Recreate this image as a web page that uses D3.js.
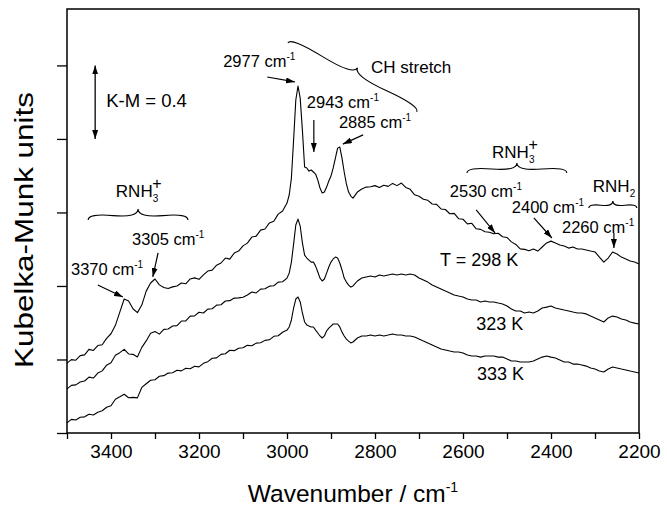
<!DOCTYPE html>
<html>
<head>
<meta charset="utf-8">
<script src="https://cdn.jsdelivr.net/npm/d3@7"></script>
<style>
  body { margin: 0; background: #fff; }
  text { font-family: "Liberation Sans", Arial, Helvetica, sans-serif; fill: #000; }
</style>
</head>
<body>
<div id="chart"></div>
<script>
// Wavenumber grid (cm-1) shared by the three spectra
const wavenumbers = [
  3500,3490,3480,3470,3460,3450,3440,3430,3420,3410,3400,3390,3380,3370,3360,3350,3340,3330,3320,3310,
  3300,3290,3280,3270,3260,3250,3240,3230,3220,3210,3200,3190,3180,3170,3160,3150,3140,3130,3120,3110,
  3100,3090,3080,3070,3060,3050,3040,3030,3020,3010,
  3000,2995,2990,2985,2980,2975,2970,2965,2960,2955,2950,2945,2940,2935,2930,2925,2920,2915,2910,2905,
  2900,2895,2890,2885,2880,2875,2870,2865,2860,2855,2850,
  2840,2830,2820,2810,2800,2790,2780,2770,2760,2750,2740,2730,2720,2710,2700,2690,2680,2670,2660,2650,
  2640,2630,2620,2610,2600,2590,2580,2570,2560,2550,2540,2530,2520,2510,2500,2490,2480,2470,2460,2450,
  2440,2430,2420,2410,2400,2390,2380,2370,2360,2350,2340,2330,2320,2310,2300,2290,2280,2270,2260,2250,
  2240,2230,2220,2210,2200
];

// Kubelka-Munk values (offset spectra)
const km298 = [
  0.380,0.399,0.396,0.421,0.425,0.455,0.449,0.476,0.480,0.515,0.540,0.586,0.658,0.729,0.718,0.676,0.655,0.696,0.772,0.816,
  0.838,0.806,0.792,0.786,0.795,0.800,0.816,0.812,0.838,0.844,0.836,0.860,0.881,0.886,0.913,0.925,0.952,0.946,0.979,0.990,
  1.018,1.033,1.066,1.071,1.104,1.110,1.143,1.152,1.191,1.208,
  1.251,1.295,1.387,1.594,1.812,1.888,1.822,1.648,1.447,1.442,1.425,1.431,1.420,1.409,1.376,1.333,1.306,1.311,1.338,1.371,
  1.398,1.442,1.496,1.550,1.556,1.496,1.420,1.355,1.311,1.289,1.278,
  1.311,1.328,1.338,1.340,1.346,1.336,1.348,1.342,1.358,1.346,1.360,1.336,1.326,1.296,1.288,1.272,1.266,1.246,1.244,1.219,
  1.216,1.193,1.195,1.166,1.163,1.138,1.141,1.111,1.108,1.095,1.092,1.084,1.087,1.068,1.064,1.040,1.026,1.002,0.999,0.992,
  1.001,0.990,1.012,1.034,1.044,1.034,1.023,1.017,1.006,1.012,1.001,1.001,0.996,0.990,0.985,0.957,0.930,0.952,0.985,0.974,
  0.957,0.947,0.936,0.930,0.919
];
const km323 = [
  0.240,0.259,0.262,0.277,0.283,0.304,0.299,0.326,0.338,0.369,0.382,0.423,0.437,0.455,0.430,0.428,0.414,0.466,0.501,0.543,
  0.552,0.538,0.564,0.566,0.582,0.584,0.609,0.610,0.636,0.637,0.657,0.653,0.674,0.676,0.696,0.698,0.718,0.720,0.734,0.735,
  0.739,0.751,0.767,0.762,0.783,0.785,0.799,0.801,0.821,0.823,
  0.843,0.870,0.930,1.028,1.132,1.164,1.126,1.034,0.968,0.952,0.941,0.930,0.930,0.908,0.876,0.843,0.827,0.838,0.870,0.903,
  0.930,0.947,0.957,0.952,0.925,0.887,0.843,0.821,0.805,0.794,0.800,
  0.827,0.843,0.849,0.854,0.849,0.860,0.854,0.860,0.865,0.860,0.865,0.860,0.865,0.860,0.843,0.832,0.821,0.805,0.794,0.783,
  0.772,0.762,0.751,0.745,0.740,0.729,0.724,0.724,0.713,0.718,0.713,0.713,0.707,0.702,0.691,0.675,0.664,0.664,0.653,0.658,
  0.653,0.664,0.680,0.685,0.691,0.680,0.675,0.669,0.664,0.658,0.653,0.653,0.648,0.636,0.626,0.615,0.604,0.626,0.636,0.631,
  0.620,0.615,0.604,0.598,0.593
];
const km333 = [
  0.055,0.074,0.071,0.086,0.088,0.102,0.098,0.113,0.121,0.140,0.148,0.184,0.197,0.211,0.192,0.194,0.191,0.248,0.268,0.287,
  0.290,0.309,0.312,0.326,0.328,0.341,0.338,0.352,0.350,0.363,0.360,0.379,0.388,0.407,0.409,0.428,0.431,0.450,0.448,0.461,
  0.464,0.477,0.475,0.489,0.491,0.504,0.507,0.526,0.529,0.548,
  0.560,0.577,0.615,0.680,0.729,0.740,0.713,0.653,0.604,0.588,0.582,0.577,0.577,0.560,0.544,0.528,0.517,0.528,0.555,0.571,
  0.582,0.593,0.593,0.593,0.577,0.549,0.528,0.511,0.500,0.490,0.495,
  0.517,0.528,0.528,0.533,0.528,0.533,0.528,0.533,0.539,0.533,0.533,0.528,0.528,0.522,0.511,0.500,0.490,0.479,0.468,0.457,
  0.452,0.446,0.441,0.441,0.435,0.424,0.419,0.419,0.413,0.419,0.419,0.419,0.413,0.413,0.403,0.392,0.392,0.386,0.386,0.386,
  0.392,0.403,0.413,0.419,0.413,0.408,0.397,0.386,0.386,0.375,0.375,0.370,0.364,0.354,0.348,0.337,0.332,0.348,0.359,0.354,
  0.348,0.343,0.337,0.332,0.326
];

const xTicks = [3500,3400,3300,3200,3100,3000,2900,2800,2700,2600,2500,2400,2300,2200];
const yTicks = [0, 0.4, 0.8, 1.2, 1.6, 2.0];

// annotation anchors in data units (wavenumber, K-M)
const peakLabels = [
  { text: "2977 cm", w: 3145, v: 1.992 },
  { text: "2943 cm", w: 2955, v: 1.769 },
  { text: "2885 cm", w: 2882, v: 1.660 },
  { text: "3305 cm", w: 3352, v: 1.023 },
  { text: "3370 cm", w: 3491, v: 0.860 },
  { text: "2530 cm", w: 2630, v: 1.284 },
  { text: "2400 cm", w: 2489, v: 1.197 },
  { text: "2260 cm", w: 2375, v: 1.088 }
];
const arrows = [
  { from: [3045, 1.937], to: [2982, 1.910] },
  { from: [2939, 1.703], to: [2939, 1.529] },
  { from: [2827, 1.622], to: [2873, 1.572] },
  { from: [3293, 0.980], to: [3305, 0.849] },
  { from: [3430, 0.805], to: [3373, 0.740] },
  { from: [2570, 1.214], to: [2527, 1.088] },
  { from: [2439, 1.170], to: [2398, 1.061] },
  { from: [2257, 1.088], to: [2257, 1.007] }
];
// braces: from p1 to p2, tip on the left-hand side of the p1->p2 direction
const braces = [
  { p1: [2705, 1.747], p2: [2998, 2.122], depth: 11 },
  { p1: [3225, 1.159], p2: [3452, 1.159], depth: 11 },
  { p1: [2364, 1.415], p2: [2591, 1.415], depth: 10 },
  { p1: [2205, 1.224], p2: [2314, 1.224], depth: 7 }
];
const groupLabels = [
  { name: "RNH", sub: "3", sup: "+", w: 3389, v: 1.284 },
  { name: "RNH", sub: "3", sup: "+", w: 2534, v: 1.497 },
  { name: "RNH", sub: "2", sup: "", w: 2305, v: 1.312 }
];
const tempLabels = [
  { text: "T = 298 K", w: 2652, v: 0.909 },
  { text: "323 K", w: 2570, v: 0.561 },
  { text: "333 K", w: 2568, v: 0.288 }
];

const margin = { top: 9, right: 28, bottom: 78, left: 67 };
const width = 667 - margin.left - margin.right;
const height = 511 - margin.top - margin.bottom;

const svgRoot = d3.select("#chart").append("svg")
    .attr("width", 667)
    .attr("height", 511);

const defs = svgRoot.append("defs");
defs.append("marker")
    .attr("id", "head")
    .attr("markerUnits", "userSpaceOnUse")
    .attr("markerWidth", 9).attr("markerHeight", 6)
    .attr("refX", 9).attr("refY", 3)
    .attr("orient", "auto-start-reverse")
    .append("path")
    .attr("d", "M0,0 L9,3 L0,6 Z")
    .attr("fill", "#000");

const svg = svgRoot.append("g")
    .attr("transform", `translate(${margin.left},${margin.top})`);

const x = d3.scaleLinear().domain([3500, 2200]).range([0, width]);
const y = d3.scaleLinear().domain([0, 2.307]).range([height, 0]);

// axes
const xAxis = svg.append("g")
    .attr("transform", `translate(0,${height})`)
    .call(d3.axisBottom(x).tickValues(xTicks).tickSize(6).tickPadding(6)
        .tickFormat(d => d % 200 === 0 ? d : ""));
xAxis.select(".domain").remove();
xAxis.selectAll("line").attr("stroke-width", 1.3);
xAxis.selectAll("text").style("font-size", "19px")
    .style("font-family", "'Liberation Sans', Arial, sans-serif").attr("fill", "#000");

const yAxis = svg.append("g")
    .call(d3.axisLeft(y).tickValues(yTicks).tickSize(10).tickFormat(""));
yAxis.select(".domain").remove();
yAxis.selectAll("line").attr("stroke-width", 1.3);

svg.append("rect")
    .attr("width", width).attr("height", height)
    .attr("fill", "none").attr("stroke", "#000").attr("stroke-width", 1.5);

// spectra
const line = d3.line()
    .x((d, i) => x(wavenumbers[i]))
    .y(d => y(d));

[km298, km323, km333].forEach(series => {
    svg.append("path")
        .datum(series)
        .attr("fill", "none")
        .attr("stroke", "#000")
        .attr("stroke-width", 1.1)
        .attr("stroke-linejoin", "round")
        .attr("d", line);
});

// K-M scale bar
svg.append("line")
    .attr("x1", x(3436)).attr("x2", x(3436))
    .attr("y1", y(2.0)).attr("y2", y(1.6))
    .attr("stroke", "#000").attr("stroke-width", 1.3)
    .attr("marker-start", "url(#head)").attr("marker-end", "url(#head)");
svg.append("text")
    .attr("x", x(3411)).attr("y", y(1.774))
    .style("font-size", "18.5px")
    .text("K-M = 0.4");

// peak labels with cm-1 superscript
peakLabels.forEach(p => {
    const t = svg.append("text")
        .attr("x", x(p.w)).attr("y", y(p.v))
        .style("font-size", "16.5px")
        .text(p.text);
    t.append("tspan").attr("dy", -7).style("font-size", "10px").text("-1");
});

arrows.forEach(a => {
    svg.append("line")
        .attr("x1", x(a.from[0])).attr("y1", y(a.from[1]))
        .attr("x2", x(a.to[0])).attr("y2", y(a.to[1]))
        .attr("stroke", "#000").attr("stroke-width", 1.2)
        .attr("marker-end", "url(#head)");
});

// curly brace path between two points
function bracePath(x1, y1, x2, y2, w, q) {
    let dx = x1 - x2, dy = y1 - y2;
    const len = Math.sqrt(dx * dx + dy * dy);
    dx /= len; dy /= len;
    const qx1 = x1 + q * w * dy, qy1 = y1 - q * w * dx;
    const qx2 = (x1 - 0.25 * len * dx) + (1 - q) * w * dy, qy2 = (y1 - 0.25 * len * dy) - (1 - q) * w * dx;
    const tx1 = (x1 - 0.5 * len * dx) + w * dy, ty1 = (y1 - 0.5 * len * dy) - w * dx;
    const qx3 = x2 + q * w * dy, qy3 = y2 - q * w * dx;
    const qx4 = (x1 - 0.75 * len * dx) + (1 - q) * w * dy, qy4 = (y1 - 0.75 * len * dy) - (1 - q) * w * dx;
    return `M${x1},${y1} Q${qx1},${qy1} ${qx2},${qy2} T${tx1},${ty1} M${x2},${y2} Q${qx3},${qy3} ${qx4},${qy4} T${tx1},${ty1}`;
}

braces.forEach(b => {
    svg.append("path")
        .attr("d", bracePath(x(b.p1[0]), y(b.p1[1]), x(b.p2[0]), y(b.p2[1]), b.depth, 0.6))
        .attr("fill", "none").attr("stroke", "#000").attr("stroke-width", 1.1);
});

svg.append("text")
    .attr("x", x(2809)).attr("y", y(1.959))
    .style("font-size", "17px")
    .text("CH stretch");

groupLabels.forEach(g => {
    const t = svg.append("text")
        .attr("x", x(g.w)).attr("y", y(g.v))
        .style("font-size", "17px")
        .text(g.name);
    t.append("tspan").attr("dy", 5).style("font-size", "10px").text(g.sub);
    if (g.sup) {
        t.append("tspan").attr("dx", -6).attr("dy", -13).style("font-size", "16px").text(g.sup);
    }
});

tempLabels.forEach(l => {
    svg.append("text")
        .attr("x", x(l.w)).attr("y", y(l.v))
        .style("font-size", "18px")
        .text(l.text);
});

// axis titles
const xt = svg.append("text")
    .attr("x", width / 2).attr("y", height + 69)
    .attr("text-anchor", "middle")
    .style("font-size", "24.5px")
    .text("Wavenumber / cm");
xt.append("tspan").attr("dy", -10).style("font-size", "14px").text("-1");

svg.append("text")
    .attr("transform", `translate(${33 - margin.left},${230 - margin.top}) rotate(-90)`)
    .attr("text-anchor", "middle")
    .attr("textLength", 276)
    .attr("lengthAdjust", "spacingAndGlyphs")
    .style("font-size", "26px")
    .text("Kubelka-Munk units");
</script>
</body>
</html>
